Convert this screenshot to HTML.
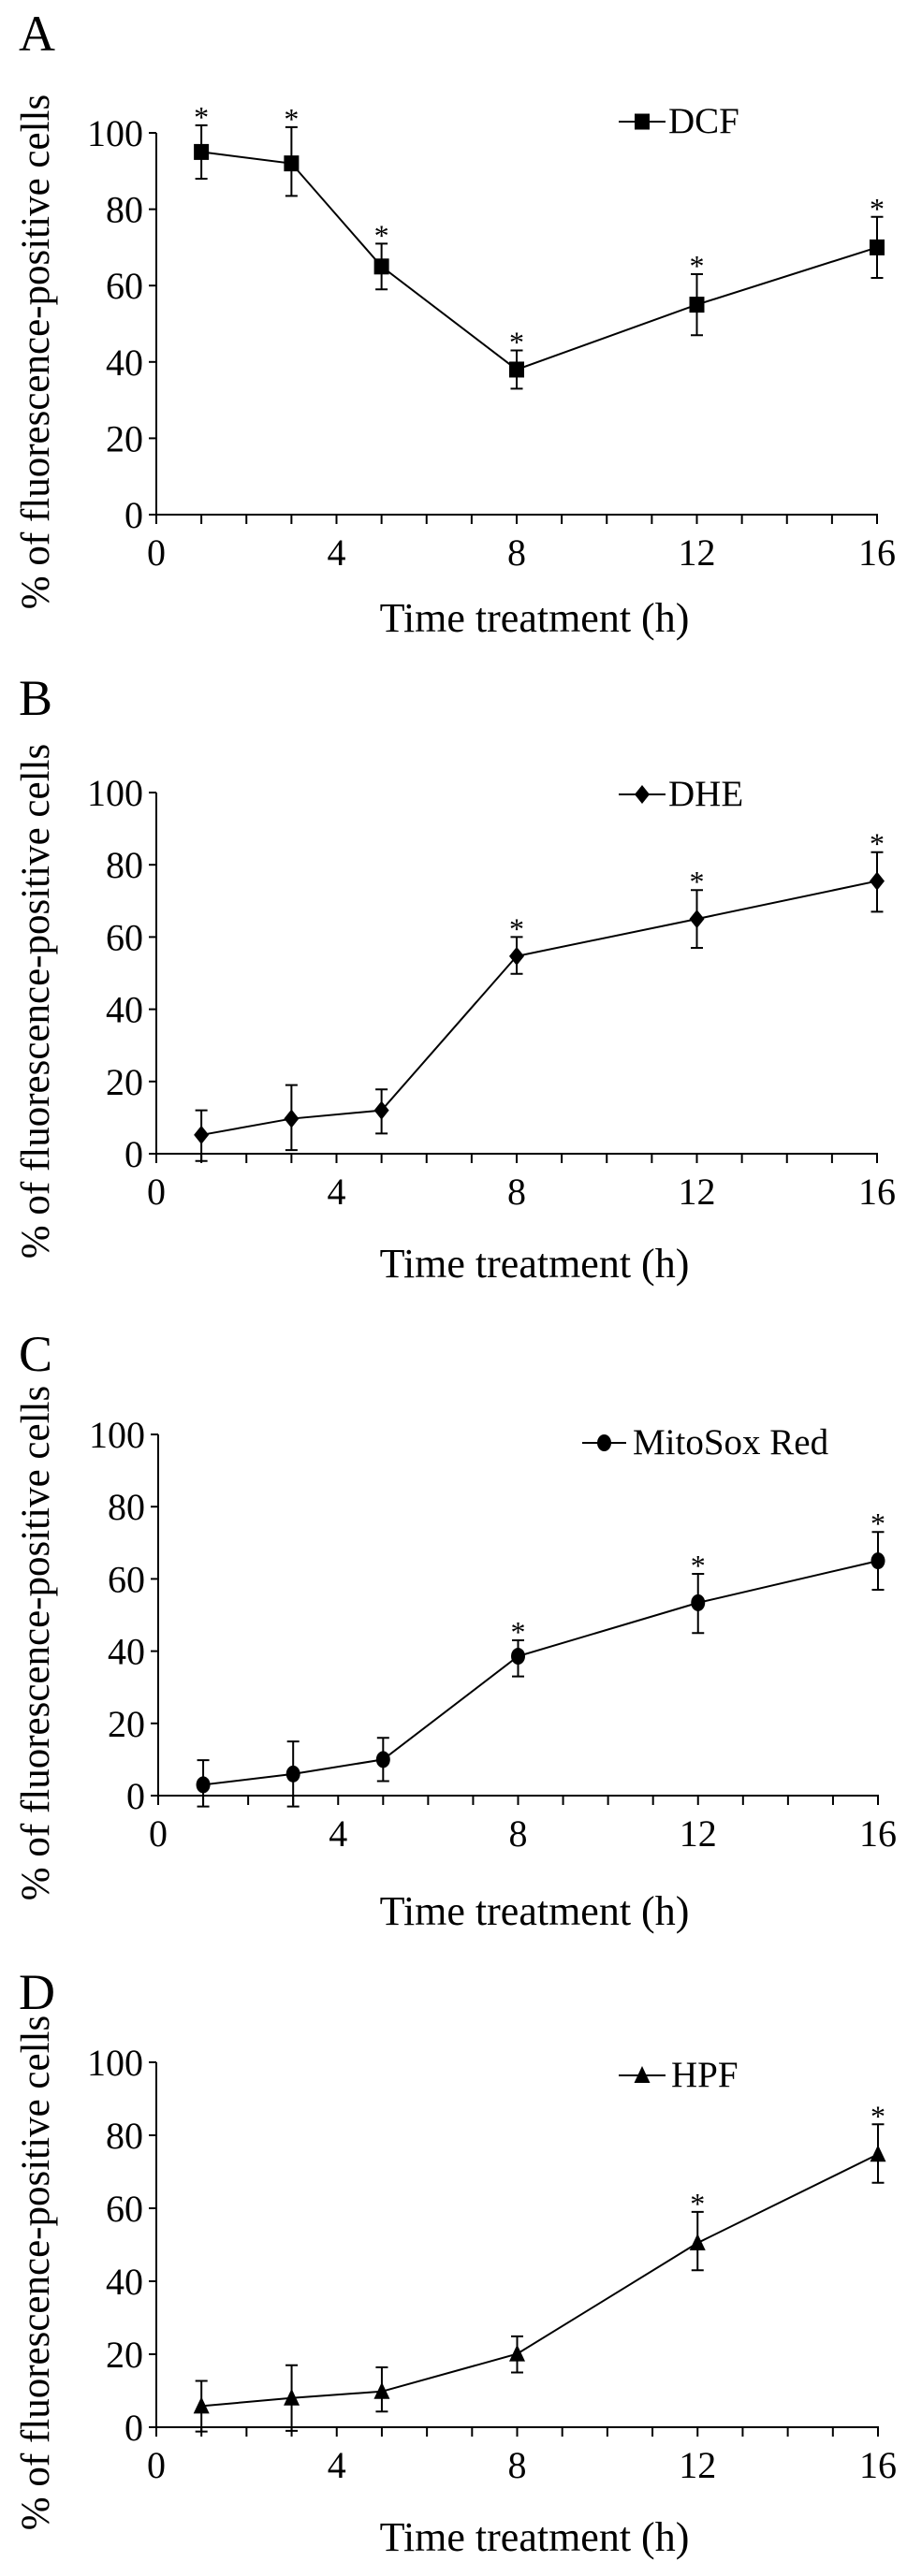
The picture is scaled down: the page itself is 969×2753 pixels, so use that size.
<!DOCTYPE html>
<html><head><meta charset="utf-8"><style>
html,body{margin:0;padding:0;background:#fff;}
svg{display:block;font-family:"Liberation Serif",serif;}
</style></head><body>
<svg id="fig" width="969" height="2753" viewBox="0 0 969 2753" xmlns="http://www.w3.org/2000/svg"></svg>
<script>
// ---- data ----
const timePoints = [1, 3, 5, 8, 12, 16];
const xTickLabels = ["0", "4", "8", "12", "16"];
const yTickLabels = ["0", "20", "40", "60", "80", "100"];

const dcfValues = [95, 92, 65, 38, 55, 70];
const dcfErrHigh = [102, 101.5, 71, 43, 63, 78];
const dcfErrLow = [88, 83.5, 59, 33, 47, 62];
const dcfSig = [1, 1, 1, 1, 1, 1];

const dheValues = [5.2, 9.7, 12, 54.7, 65, 75.5];
const dheErrHigh = [12, 19, 17.8, 60, 73, 83.5];
const dheErrLow = [-2, 1, 5.6, 49.8, 57, 67];
const dheSig = [0, 0, 0, 1, 1, 1];

const mitoValues = [3, 6, 10, 38.6, 53.4, 65];
const mitoErrHigh = [9.8, 15, 16, 43, 61.4, 73];
const mitoErrLow = [-3, -3, 4, 33, 45, 57];
const mitoSig = [0, 0, 0, 1, 1, 1];

const hpfValues = [5.8, 8, 9.8, 20.1, 50.5, 74.8];
const hpfErrHigh = [12.7, 17, 16.4, 24.9, 59, 83];
const hpfErrLow = [-1.2, -1, 4.3, 15, 43, 67];
const hpfSig = [0, 0, 0, 0, 1, 1];

const panels = [
  {letter:"A", name:"dcf", label:"DCF", marker:"square", vals:dcfValues, hi:dcfErrHigh, lo:dcfErrLow, sig:dcfSig,
   x0:167, x16:937, y100:142, y0:550, letterY:54, legY:130, legX1:661, legX2:711, legTx:714, titleY:675},
  {letter:"B", name:"dhe", label:"DHE", marker:"diamond", vals:dheValues, hi:dheErrHigh, lo:dheErrLow, sig:dheSig,
   x0:167, x16:937, y100:847, y0:1233, letterY:764, legY:849, legX1:661, legX2:711, legTx:714, titleY:1365},
  {letter:"C", name:"mitosox", label:"MitoSox Red", marker:"circle", vals:mitoValues, hi:mitoErrHigh, lo:mitoErrLow, sig:mitoSig,
   x0:169, x16:938, y100:1533, y0:1919, letterY:1465, legY:1542, legX1:622, legX2:669, legTx:676, titleY:2057},
  {letter:"D", name:"hpf", label:"HPF", marker:"triangle", vals:hpfValues, hi:hpfErrHigh, lo:hpfErrLow, sig:hpfSig,
   x0:167, x16:938, y100:2204, y0:2594, letterY:2147, legY:2218, legX1:661, legX2:711, legTx:717, titleY:2726}
];

const NS = "http://www.w3.org/2000/svg";
const svg = document.getElementById("fig");
function mk(tag, attrs, parent){
  const e = document.createElementNS(NS, tag);
  for (const k in attrs) e.setAttribute(k, attrs[k]);
  (parent || svg).appendChild(e);
  return e;
}
function drawMarker(type, cx, cy, g){
  let m;
  if (type === "square") m = mk("rect", {x:cx-8, y:cy-8.5, width:16, height:17, fill:"#000"}, g);
  else if (type === "diamond") m = mk("polygon", {points:`${cx},${cy-10} ${cx+8},${cy} ${cx},${cy+10} ${cx-8},${cy}`, fill:"#000"}, g);
  else if (type === "circle") m = mk("ellipse", {cx:cx, cy:cy, rx:7.5, ry:9, fill:"#000"}, g);
  else m = mk("polygon", {points:`${cx},${cy-10} ${cx+8.5},${cy+8} ${cx-8.5},${cy+8}`, fill:"#000"}, g);
  return m;
}

panels.forEach(p => {
  const g = mk("g", {});
  
  
  const xs = t => p.x0 + (p.x16 - p.x0) * t / 16;
  const ys = v => p.y0 - (p.y0 - p.y100) * v / 100;

  const lt = mk("text", {x:20, y:p.letterY, "font-size":54}, g);
  lt.textContent = p.letter;
  
  

  // axes
  const ya = mk("line", {x1:p.x0, y1:p.y100, x2:p.x0, y2:p.y0, stroke:"#000", "stroke-width":2}, g);
  
  
  const xa = mk("line", {x1:p.x0-8, y1:p.y0, x2:p.x16+1, y2:p.y0, stroke:"#000", "stroke-width":2}, g);
  
  

  yTickLabels.forEach(lbl => {
    const v = +lbl, y = ys(v);
    mk("line", {x1:p.x0-8, y1:y, x2:p.x0, y2:y, stroke:"#000", "stroke-width":2}, g);
    const t = mk("text", {x:p.x0-14, y:y+14, "font-size":40, "text-anchor":"end"}, g);
    t.textContent = lbl;
    
    
  });
  for (let h = 0; h <= 16; h++) {
    mk("line", {x1:xs(h), y1:p.y0, x2:xs(h), y2:p.y0+10, stroke:"#000", "stroke-width":2}, g);
  }
  xTickLabels.forEach(lbl => {
    const t = mk("text", {x:xs(+lbl), y:p.y0+54, "font-size":40, "text-anchor":"middle"}, g);
    t.textContent = lbl;
    
    
  });

  const xt = mk("text", {x:571, y:p.titleY, "font-size":44, "text-anchor":"middle"}, g);
  xt.textContent = "Time treatment (h)";
  
  

  const cy = (p.y0 + p.y100) / 2 + 30;
  const yt = mk("text", {x:0, y:0, "font-size":43, "text-anchor":"middle", transform:`translate(52,${cy}) rotate(-90)`}, g);
  yt.textContent = "% of fluorescence-positive cells";
  
  

  // series line
  const pts = timePoints.map((t, i) => `${xs(t)},${ys(p.vals[i])}`).join(" ");
  const pl = mk("polyline", {points:pts, fill:"none", stroke:"#000", "stroke-width":2}, g);
  
  

  timePoints.forEach((t, i) => {
    const x = xs(t), yh = ys(p.hi[i]), yl = ys(p.lo[i]);
    const eb = mk("path", {d:`M${x},${yh}V${yl}M${x-6.5},${yh}H${x+6.5}M${x-6.5},${yl}H${x+6.5}`, stroke:"#000", "stroke-width":2, fill:"none"}, g);
    
    
    const m = drawMarker(p.marker, x, ys(p.vals[i]), g);
    
    
    if (p.sig[i]) {
      const a = mk("text", {x:x, y:yh+2, "font-size":32, "text-anchor":"middle"}, g);
      a.textContent = "*";
      
      
    }
  });

  // legend
  const lg = mk("g", {}, g);
  
  
  mk("line", {x1:p.legX1, y1:p.legY, x2:p.legX2, y2:p.legY, stroke:"#000", "stroke-width":2}, lg);
  drawMarker(p.marker, (p.legX1 + p.legX2) / 2, p.legY, lg);
  const ltx = mk("text", {x:p.legTx, y:p.legY + 12, "font-size":39}, lg);
  ltx.textContent = p.label;
});
</script>
</body></html>
